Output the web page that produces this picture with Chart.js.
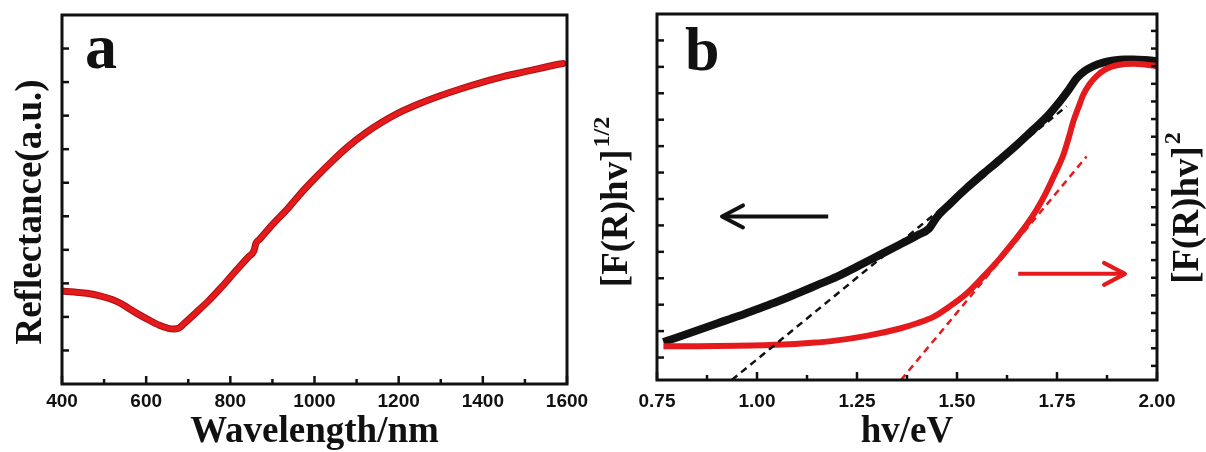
<!DOCTYPE html>
<html><head><meta charset="utf-8">
<script src="https://cdn.jsdelivr.net/npm/chart.js@4.4.1/dist/chart.umd.min.js"></script>
<style>
html,body{margin:0;padding:0;background:#fff;}
#wrap{position:relative;width:1206px;height:452px;overflow:hidden;background:#fff;}
#ca{position:absolute;left:0;top:0;}
#cb{position:absolute;left:588px;top:0;}
</style></head><body>
<div id="wrap">
<canvas id="ca" width="603" height="452"></canvas>
<canvas id="cb" width="618" height="452"></canvas>
</div>
<script>
// ---------- Panel a : reflectance spectrum ----------
const wavelengthNm = [400,430,463,490,519,540,558,580,606,630,653,665,677,690,717,750,780,810,843,856,861,870,900,938,970,1000,1040,1080,1120,1160,1200,1250,1300,1350,1400,1450,1500,1550,1583,1590];
const reflectance  = [2.77,2.74,2.70,2.63,2.52,2.40,2.26,2.09,1.91,1.76,1.66,1.64,1.66,1.80,2.11,2.50,2.90,3.33,3.79,3.97,4.20,4.32,4.75,5.25,5.72,6.12,6.62,7.08,7.47,7.80,8.08,8.36,8.60,8.81,9.00,9.17,9.31,9.45,9.54,9.55];
const wavelengthTicks = [400,600,800,1000,1200,1400,1600];
const wavelengthMinorTicks = [500,700,900,1100,1300,1500];
const reflectanceTicks = [1,2,3,4,5,6,7,8,9,10];

// ---------- Panel b : Tauc plots ----------
const hvBlack = [0.766,0.80,0.85,0.90,0.95,1.00,1.05,1.10,1.15,1.20,1.25,1.30,1.35,1.40,1.43,1.44,1.45,1.48,1.524,1.565,1.6075,1.65,1.691,1.725,1.7575,1.78,1.80,1.82,1.841,1.865,1.891,1.92,1.941,1.97,2.00];
const fRhvHalf = [0.59,0.76,1.02,1.29,1.55,1.83,2.11,2.42,2.74,3.06,3.44,3.83,4.22,4.62,4.88,5.10,5.32,5.78,6.41,6.95,7.49,8.05,8.63,9.12,9.70,10.15,10.58,10.85,11.03,11.16,11.24,11.28,11.28,11.26,11.22];
const hvRed = [0.766,0.85,0.95,1.066,1.13,1.191,1.274,1.3575,1.40,1.441,1.48,1.524,1.565,1.6075,1.64,1.674,1.70,1.724,1.745,1.766,1.78,1.791,1.805,1.816,1.832,1.849,1.87,1.891,1.92,1.941,1.97,2.00];
const fRhvSquare = [1.12,1.12,1.14,1.21,1.30,1.42,1.70,2.12,2.42,2.78,3.35,4.11,5.05,6.10,7.00,8.00,8.90,9.89,10.90,11.98,13.00,13.88,14.75,15.39,16.00,16.44,16.80,17.00,17.12,17.14,17.10,17.00];
const tangentBlackX = [0.937,1.774], tangentBlackY = [-0.85,9.51];
const tangentRedX = [1.36,1.824],  tangentRedY = [-0.8,11.88];
const arrowBlackX = [1.178,0.9125], arrowBlackY = [5.34,5.34];
const arrowRedX = [1.653,1.92],    arrowRedY = [5.22,5.22];
const energyTicks = [0.75,1.00,1.25,1.50,1.75,2.00];
const energyMinorTicks = [0.875,1.125,1.375,1.625,1.875];
const leftTicksB = [0,1,2,3,4,5,6,7,8,9,10,11,12];
const rightTicksB = [0,1,2,3,4,5,6,7,8,9,10,11,12,13,14,15,16,17,18,19];

const pts = (xs, ys) => xs.map((x, i) => ({x: x, y: ys[i]}));
const INK = '#111111';
const RED = '#e41a1c';
const SERIF = '"Liberation Serif", "Times New Roman", serif';
const tickFont = {family: '"Liberation Sans", Arial, sans-serif', weight: 'bold', size: 19};
const titleFont = {family: SERIF, weight: 'bold', size: 37, lineHeight: 1};

// frame + inward tick marks
const framePlugin = {
  id: 'frame',
  afterDatasetsDraw(chart, args, opts) {
    const ctx = chart.ctx, a = chart.chartArea;
    ctx.save();
    ctx.strokeStyle = INK;
    ctx.lineWidth = 3;
    ctx.strokeRect(a.left, a.top, a.right - a.left, a.bottom - a.top);
    ctx.lineWidth = 2.5;
    (opts.marks || []).forEach(t => {
      const s = chart.scales[t.axis];
      t.values.forEach(v => {
        const p = s.getPixelForValue(v);
        ctx.beginPath();
        if (t.side === 'bottom') { ctx.moveTo(p, a.bottom); ctx.lineTo(p, a.bottom - t.len); }
        else if (t.side === 'left') { ctx.moveTo(a.left, p); ctx.lineTo(a.left + t.len, p); }
        else { ctx.moveTo(a.right, p); ctx.lineTo(a.right - t.len, p); }
        ctx.stroke();
      });
    });
    ctx.restore();
  }
};

// panel letter
const letterPlugin = {
  id: 'letter',
  afterDraw(chart, args, o) {
    const ctx = chart.ctx, a = chart.chartArea;
    ctx.save();
    ctx.fillStyle = INK;
    ctx.font = 'bold ' + o.size + 'px ' + SERIF;
    ctx.textBaseline = 'alphabetic';
    ctx.textAlign = 'left';
    ctx.fillText(o.text, a.left + o.dx, a.top + o.dy);
    ctx.restore();
  }
};

// rotated (bottom-to-top) axis titles, optional superscript
const vTitlePlugin = {
  id: 'vTitle',
  afterDraw(chart, args, o) {
    const ctx = chart.ctx;
    (o.items || []).forEach(it => {
      ctx.save();
      ctx.translate(it.x, it.y);
      ctx.rotate(-Math.PI / 2);
      ctx.fillStyle = INK;
      const mf = 'bold ' + it.size + 'px ' + SERIF;
      const sf = 'bold ' + (it.supSize || 10) + 'px ' + SERIF;
      ctx.font = mf; const w1 = ctx.measureText(it.main).width;
      let w2 = 0;
      if (it.sup) { ctx.font = sf; w2 = ctx.measureText(it.sup).width + 2; }
      const W = w1 + w2;
      ctx.textBaseline = 'middle'; ctx.textAlign = 'left';
      ctx.font = mf; ctx.fillText(it.main, -W / 2, 0);
      if (it.sup) { ctx.font = sf; ctx.fillText(it.sup, -W / 2 + w1 + 2, -it.raise); }
      ctx.restore();
    });
  }
};

// arrow heads on datasets flagged arrowHead
const arrowPlugin = {
  id: 'arrowHeads',
  afterDatasetsDraw(chart) {
    const ctx = chart.ctx;
    chart.data.datasets.forEach((ds, i) => {
      if (!ds.arrowHead) return;
      const pts = chart.getDatasetMeta(i).data;
      const tip = pts[pts.length - 1], prev = pts[pts.length - 2];
      const ang = Math.atan2(tip.y - prev.y, tip.x - prev.x);
      const L = 21, H = 11;
      ctx.save();
      ctx.strokeStyle = ds.borderColor;
      ctx.lineWidth = ds.borderWidth;
      ctx.lineCap = 'round'; ctx.lineJoin = 'round';
      ctx.beginPath();
      ctx.moveTo(tip.x - L * Math.cos(ang) + H * Math.sin(ang), tip.y - L * Math.sin(ang) - H * Math.cos(ang));
      ctx.lineTo(tip.x, tip.y);
      ctx.lineTo(tip.x - L * Math.cos(ang) - H * Math.sin(ang), tip.y - L * Math.sin(ang) + H * Math.cos(ang));
      ctx.stroke();
      ctx.restore();
    });
  }
};

const hiddenY = (min, max, width, extra) => Object.assign({
  type: 'linear', min: min, max: max,
  ticks: {display: false}, grid: {display: false, drawTicks: false}, border: {display: false},
  afterFit: s => { s.width = width; }
}, extra || {});

// ---------- Chart a ----------
new Chart(document.getElementById('ca'), {
  type: 'line',
  data: {datasets: [
    {data: pts(wavelengthNm, reflectance), borderColor: RED, borderWidth: 5, pointRadius: 0,
     cubicInterpolationMode: 'monotone', borderCapStyle: 'round', borderJoinStyle: 'round', order: 0},
    {data: pts(wavelengthNm, reflectance), borderColor: '#a81010', borderWidth: 7, pointRadius: 0,
     cubicInterpolationMode: 'monotone', borderCapStyle: 'round', borderJoinStyle: 'round', order: 1}
  ]},
  options: {
    responsive: false, animation: false, devicePixelRatio: 1,
    layout: {padding: {top: 15, right: 36, left: 0, bottom: 0}},
    plugins: {
      legend: {display: false}, tooltip: {enabled: false},
      frame: {marks: [
        {axis: 'x', side: 'bottom', values: wavelengthTicks, len: 8},
        {axis: 'x', side: 'bottom', values: wavelengthMinorTicks, len: 5},
        {axis: 'y', side: 'left', values: reflectanceTicks, len: 7}
      ]},
      letter: {text: 'a', size: 64, dx: 23, dy: 53},
      vTitle: {items: [
        {main: 'Reflectance(a.u.)', x: 31, y: 212, size: 37}
      ]}
    },
    scales: {
      x: {
        type: 'linear', position: 'bottom', min: 400, max: 1600,
        afterBuildTicks: ax => { ax.ticks = wavelengthTicks.map(v => ({value: v})); },
        ticks: {font: tickFont, color: INK, padding: 6, maxRotation: 0, autoSkip: false,
                callback: v => String(v)},
        grid: {display: false, drawTicks: false}, border: {display: false},
        title: {display: true, text: 'Wavelength/nm', color: INK, font: titleFont, padding: {top: 0, bottom: 1}},
        afterFit: s => { s.height = 68; }
      },
      y: hiddenY(0, 11, 62)
    }
  },
  plugins: [framePlugin, letterPlugin, vTitlePlugin]
});

// ---------- Chart b ----------
new Chart(document.getElementById('cb'), {
  type: 'line',
  data: {datasets: [
    {data: pts(hvBlack, fRhvHalf), yAxisID: 'y', borderColor: INK, borderWidth: 8, pointRadius: 0,
     cubicInterpolationMode: 'monotone', order: 2},
    {data: pts(hvRed, fRhvSquare), yAxisID: 'y2', borderColor: RED, borderWidth: 6, pointRadius: 0,
     cubicInterpolationMode: 'monotone', order: 1},
    {data: pts(tangentBlackX, tangentBlackY), yAxisID: 'y', borderColor: INK, borderWidth: 2.5,
     borderDash: [7, 5], pointRadius: 0, order: 0},
    {data: pts(tangentRedX, tangentRedY), yAxisID: 'y2', borderColor: RED, borderWidth: 2.5,
     borderDash: [7, 5], pointRadius: 0, order: 0},
    {data: pts(arrowBlackX, arrowBlackY), yAxisID: 'y', borderColor: INK, borderWidth: 4,
     pointRadius: 0, arrowHead: true, order: 0},
    {data: pts(arrowRedX, arrowRedY), yAxisID: 'y2', borderColor: RED, borderWidth: 4,
     pointRadius: 0, arrowHead: true, order: 0}
  ]},
  options: {
    responsive: false, animation: false, devicePixelRatio: 1,
    layout: {padding: {top: 14, right: 0, left: 0, bottom: 0}},
    plugins: {
      legend: {display: false}, tooltip: {enabled: false},
      frame: {marks: [
        {axis: 'x', side: 'bottom', values: energyTicks, len: 8},
        {axis: 'x', side: 'bottom', values: energyMinorTicks, len: 5},
        {axis: 'y', side: 'left', values: leftTicksB, len: 7},
        {axis: 'y2', side: 'right', values: rightTicksB, len: 6}
      ]},
      letter: {text: 'b', size: 62, dx: 28, dy: 56},
      vTitle: {items: [
        {main: '[F(R)hv]', sup: '1/2', x: 29, y: 202, size: 37, supSize: 24, raise: 14},
        {main: '[F(R)hv]', sup: '2', x: 600, y: 208, size: 37, supSize: 24, raise: 14}
      ]}
    },
    scales: {
      x: {
        type: 'linear', position: 'bottom', min: 0.75, max: 2.0,
        afterBuildTicks: ax => { ax.ticks = energyTicks.map(v => ({value: v})); },
        ticks: {font: tickFont, color: INK, padding: 10, maxRotation: 0, autoSkip: false,
                callback: v => Number(v).toFixed(2)},
        grid: {display: false, drawTicks: false}, border: {display: false},
        title: {display: true, text: 'hv/eV', color: INK, font: titleFont, padding: {top: 0, bottom: 1}},
        afterFit: s => { s.height = 72; }
      },
      y: hiddenY(-0.85, 13.0, 69),
      y2: hiddenY(-0.8, 19.96, 49, {position: 'right'})
    }
  },
  plugins: [framePlugin, letterPlugin, vTitlePlugin, arrowPlugin]
});
</script>
</body></html>
